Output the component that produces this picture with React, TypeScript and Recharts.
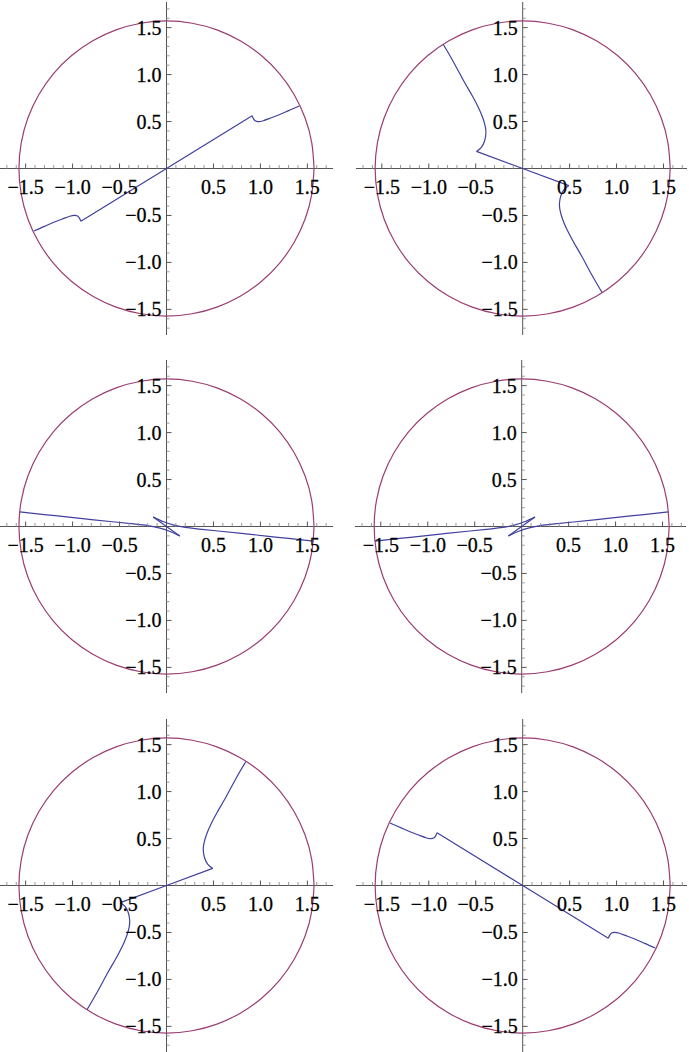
import { ComposedChart, Line, XAxis, YAxis, ReferenceLine, ReferenceDot } from "recharts";

type P = [number, number];

// circle of radius pi/2, every 10 degrees
const CIRCLE: P[] = [
  [1.571, 0], [1.547, 0.273], [1.476, 0.537], [1.36, 0.785], [1.203, 1.01], [1.01, 1.203],
  [0.785, 1.36], [0.537, 1.476], [0.273, 1.547], [0, 1.571], [-0.273, 1.547], [-0.537, 1.476],
  [-0.785, 1.36], [-1.01, 1.203], [-1.203, 1.01], [-1.36, 0.785], [-1.476, 0.537], [-1.547, 0.273],
  [-1.571, 0], [-1.547, -0.273], [-1.476, -0.537], [-1.36, -0.785], [-1.203, -1.01], [-1.01, -1.203],
  [-0.785, -1.36], [-0.537, -1.476], [-0.273, -1.547], [0, -1.571], [0.273, -1.547], [0.537, -1.476],
  [0.785, -1.36], [1.01, -1.203], [1.203, -1.01], [1.36, -0.785], [1.476, -0.537], [1.547, -0.273],
  [1.571, 0],
];

// each curve is split at its cusps: [curved, straight, curved]
const CURVE_1: P[][] = [
  [[-1.413, -0.665], [-1.3, -0.616], [-1.2, -0.572], [-1.1, -0.534], [-1.03, -0.509], [-0.98, -0.499], [-0.948, -0.505], [-0.927, -0.528], [-0.912, -0.562]],
  [[-0.912, -0.562], [0, 0], [0.912, 0.562]],
  [[0.912, 0.562], [0.927, 0.528], [0.948, 0.505], [0.98, 0.499], [1.03, 0.509], [1.1, 0.534], [1.2, 0.572], [1.3, 0.616], [1.413, 0.665]],
];

const CURVE_2: P[][] = [
  [[-0.845, 1.32], [-0.74, 1.14], [-0.632, 0.94], [-0.54, 0.78], [-0.473, 0.653], [-0.425, 0.54], [-0.397, 0.44], [-0.392, 0.37], [-0.405, 0.295], [-0.44, 0.226], [-0.492, 0.182]],
  [[-0.492, 0.182], [0, 0], [0.492, -0.182]],
  [[0.492, -0.182], [0.44, -0.226], [0.405, -0.295], [0.392, -0.37], [0.397, -0.44], [0.425, -0.54], [0.473, -0.653], [0.54, -0.78], [0.632, -0.94], [0.74, -1.14], [0.845, -1.32]],
];

const CURVE_3: P[][] = [
  [[-1.563, 0.155], [-1.3, 0.127], [-1.063, 0.102], [-0.8, 0.074], [-0.55, 0.048], [-0.35, 0.027], [-0.2, 0.01], [-0.08, -0.015], [0.03, -0.05], [0.142, -0.1]],
  [[0.142, -0.1], [0, 0], [-0.142, 0.1]],
  [[-0.142, 0.1], [-0.03, 0.05], [0.08, 0.015], [0.2, -0.01], [0.35, -0.027], [0.55, -0.048], [0.8, -0.074], [1.063, -0.102], [1.3, -0.127], [1.563, -0.155]],
];

const CURVE_4: P[][] = [
  [[-1.563, -0.155], [-1.3, -0.127], [-1.063, -0.102], [-0.8, -0.074], [-0.55, -0.048], [-0.35, -0.027], [-0.2, -0.01], [-0.08, 0.015], [0.03, 0.05], [0.142, 0.1]],
  [[0.142, 0.1], [0, 0], [-0.142, -0.1]],
  [[-0.142, -0.1], [-0.03, -0.05], [0.08, -0.015], [0.2, 0.01], [0.35, 0.027], [0.55, 0.048], [0.8, 0.074], [1.063, 0.102], [1.3, 0.127], [1.563, 0.155]],
];

const CURVE_5: P[][] = [
  [[0.845, 1.32], [0.74, 1.14], [0.632, 0.94], [0.54, 0.78], [0.473, 0.653], [0.425, 0.54], [0.397, 0.44], [0.392, 0.37], [0.405, 0.295], [0.44, 0.226], [0.492, 0.182]],
  [[0.492, 0.182], [0, 0], [-0.492, -0.182]],
  [[-0.492, -0.182], [-0.44, -0.226], [-0.405, -0.295], [-0.392, -0.37], [-0.397, -0.44], [-0.425, -0.54], [-0.473, -0.653], [-0.54, -0.78], [-0.632, -0.94], [-0.74, -1.14], [-0.845, -1.32]],
];

const CURVE_6: P[][] = [
  [[1.413, -0.665], [1.3, -0.616], [1.2, -0.572], [1.1, -0.534], [1.03, -0.509], [0.98, -0.499], [0.948, -0.505], [0.927, -0.528], [0.912, -0.562]],
  [[0.912, -0.562], [0, 0], [-0.912, 0.562]],
  [[-0.912, 0.562], [-0.927, 0.528], [-0.948, 0.505], [-0.98, 0.499], [-1.03, 0.509], [-1.1, 0.534], [-1.2, 0.572], [-1.3, 0.616], [-1.413, 0.665]],
];

const MAJOR_TICKS = [-1.5, -1, -0.5, 0.5, 1, 1.5];
const MAJOR_LABELS = ["\u22121.5", "\u22121.0", "\u22120.5", "0.5", "1.0", "1.5"];
const MINOR_TICKS = [
  -1.7, -1.6, -1.4, -1.3, -1.2, -1.1, -0.9, -0.8, -0.7, -0.6, -0.4, -0.3, -0.2, -0.1,
  0.1, 0.2, 0.3, 0.4, 0.6, 0.7, 0.8, 0.9, 1.1, 1.2, 1.3, 1.4, 1.6, 1.7,
];

const BLUE = "#4040a0";
const PURPLE = "#9b3d72";
const AXIS = "#555";
const MINOR = "#999";
const SERIF = "Liberation Serif, Times New Roman, Times, DejaVu Serif, serif";

const toRows = (pts: P[]) => pts.map(([x, y]) => ({ x, y }));

interface PanelProps {
  curve: P[][];
  left: number;
  top: number;
  width: number;
  xDomain: [number, number];
}

function Panel({ curve, left, top, width, xDomain }: PanelProps) {
  return (
    <div style={{ position: "absolute", left, top, fontFamily: SERIF }}>
      <ComposedChart
        width={width}
        height={333}
        margin={{ top: 0, right: 0, bottom: 0, left: 0 }}
        style={{ overflow: "visible", fontFamily: SERIF }}
      >
        <XAxis type="number" dataKey="x" domain={xDomain} allowDataOverflow hide />
        <YAxis type="number" dataKey="y" domain={[-1.773, 1.773]} allowDataOverflow hide />
        <ReferenceLine x={0} stroke={AXIS} strokeWidth={1} />
        <ReferenceLine y={0} stroke={AXIS} strokeWidth={1} />
        {MINOR_TICKS.map((t) => (
          <ReferenceDot
            key={"xm" + t}
            x={t}
            y={0}
            r={0}
            shape={(p: any) => (
              <line x1={p.cx} y1={p.cy} x2={p.cx} y2={p.cy - 3.5} stroke={MINOR} strokeWidth={1} />
            )}
          />
        ))}
        {MINOR_TICKS.map((t) => (
          <ReferenceDot
            key={"ym" + t}
            x={0}
            y={t}
            r={0}
            shape={(p: any) => (
              <line x1={p.cx} y1={p.cy} x2={p.cx + 3} y2={p.cy} stroke={MINOR} strokeWidth={1} />
            )}
          />
        ))}
        {MAJOR_TICKS.map((t, i) => (
          <ReferenceDot
            key={"xM" + t}
            x={t}
            y={0}
            r={0}
            shape={(p: any) => (
              <g>
                <line x1={p.cx} y1={p.cy} x2={p.cx} y2={p.cy - 5} stroke={AXIS} strokeWidth={1} />
                <text x={p.cx} y={p.cy + 25} textAnchor="middle" fontFamily={SERIF} fontSize={20} fill="#000" stroke="#000" strokeWidth={0.3}>
                  {MAJOR_LABELS[i]}
                </text>
              </g>
            )}
          />
        ))}
        {MAJOR_TICKS.map((t, i) => (
          <ReferenceDot
            key={"yM" + t}
            x={0}
            y={t}
            r={0}
            shape={(p: any) => (
              <g>
                <line x1={p.cx} y1={p.cy} x2={p.cx + 5} y2={p.cy} stroke={AXIS} strokeWidth={1} />
                <text x={p.cx - 5} y={p.cy + 7} textAnchor="end" fontFamily={SERIF} fontSize={20} fill="#000" stroke="#000" strokeWidth={0.3}>
                  {MAJOR_LABELS[i]}
                </text>
              </g>
            )}
          />
        ))}
        <Line
          data={toRows(CIRCLE)}
          dataKey="y"
          type="natural"
          stroke={PURPLE}
          strokeWidth={1.2}
          dot={false}
          activeDot={false}
          isAnimationActive={false}
        />
        {curve.map((seg, i) => (
          <Line
            key={i}
            data={toRows(seg)}
            dataKey="y"
            type={i === 1 ? "linear" : "natural"}
            stroke={BLUE}
            strokeWidth={1.2}
            dot={false}
            activeDot={false}
            isAnimationActive={false}
          />
        ))}
      </ComposedChart>
    </div>
  );
}

export default function App() {
  const leftX: [number, number] = [-1.773, 1.773];
  const rightX: [number, number] = [-1.775, 1.75];
  return (
    <div style={{ position: "absolute", left: 0, top: 0, width: 689, height: 1052, background: "#fff" }}>
      <Panel curve={CURVE_1} left={0} top={2} width={333} xDomain={leftX} />
      <Panel curve={CURVE_2} left={356} top={2} width={331} xDomain={rightX} />
      <Panel curve={CURVE_3} left={0} top={360} width={333} xDomain={leftX} />
      <Panel curve={CURVE_4} left={355} top={360} width={331} xDomain={rightX} />
      <Panel curve={CURVE_5} left={0} top={719} width={333} xDomain={leftX} />
      <Panel curve={CURVE_6} left={356} top={719} width={331} xDomain={rightX} />
    </div>
  );
}
